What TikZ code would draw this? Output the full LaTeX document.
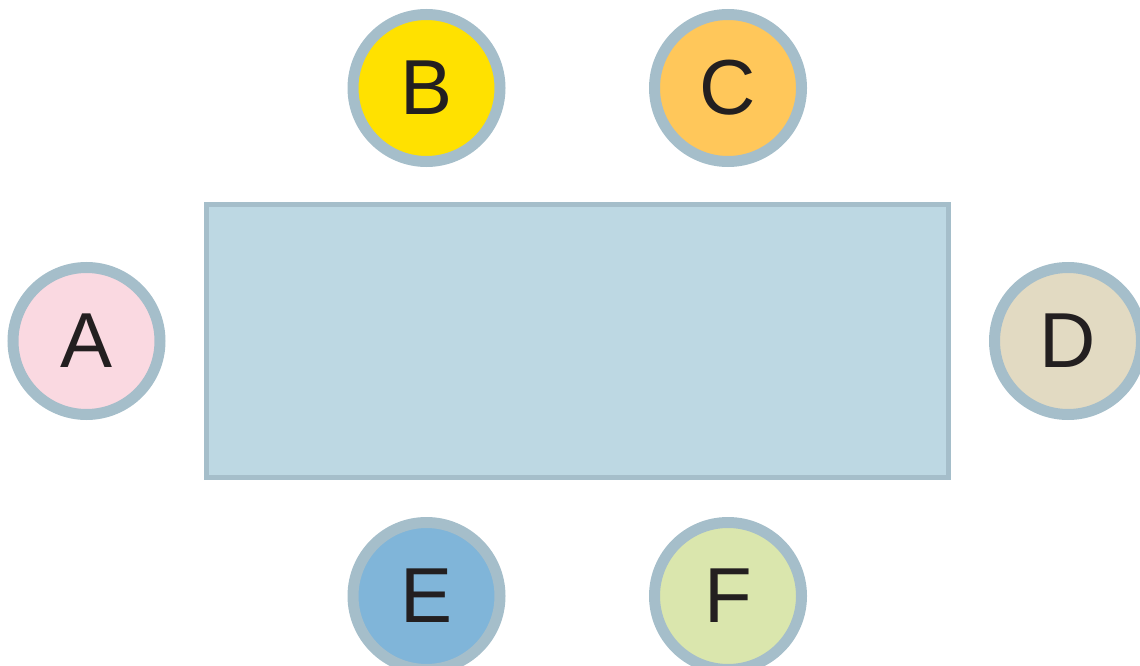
\documentclass[tikz,border=0pt]{standalone}
\usepackage{fontspec}
\setmainfont{Liberation Sans}
\definecolor{rim}{HTML}{A5BECA}
\definecolor{boxfill}{HTML}{BDD8E3}
\definecolor{ink}{HTML}{231F20}
\definecolor{cA}{HTML}{FAD9E1}
\definecolor{cB}{HTML}{FFE100}
\definecolor{cC}{HTML}{FFC75A}
\definecolor{cD}{HTML}{E2DAC2}
\definecolor{cE}{HTML}{80B5D9}
\definecolor{cF}{HTML}{DAE6AD}
\begin{document}
\begin{tikzpicture}[x=1pt,y=-1pt,
  seat/.style={circle,draw=rim,line width=11pt,minimum size=147pt,inner sep=0pt,
    text=ink,font=\fontsize{78}{78}\selectfont},
  tablebox/.style={draw=rim,fill=boxfill,line width=5pt}]
\useasboundingbox (0,0) rectangle (1140,666);
\clip (0,0) rectangle (1140,666);
\draw[tablebox] (206,204.5) rectangle (948,477.5);
\node[seat,fill=cA] (A) at (86.5,341) {A};
\node[seat,fill=cB] (B) at (426.5,88) {B};
\node[seat,fill=cC] (C) at (728,88) {C};
\node[seat,fill=cD] (D) at (1068,341) {D};
\node[seat,fill=cE] (E) at (426.5,596) {E};
\node[seat,fill=cF] (F) at (728,596) {F};
\end{tikzpicture}
\end{document}
